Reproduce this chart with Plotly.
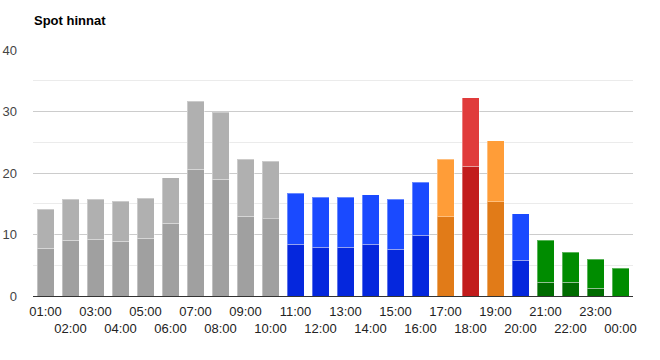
import plotly.graph_objects as go

hours = ["01:00", "02:00", "03:00", "04:00", "05:00", "06:00", "07:00", "08:00",
         "09:00", "10:00", "11:00", "12:00", "13:00", "14:00", "15:00", "16:00",
         "17:00", "18:00", "19:00", "20:00", "21:00", "22:00", "23:00", "00:00"]
spot = [7.75, 9.05, 9.2, 8.9, 9.4, 11.8, 20.6, 19.0, 13.0, 12.6, 8.45, 7.9,
        7.9, 8.4, 7.6, 9.9, 12.9, 21.1, 15.3, 5.8, 2.2, 2.2, 1.25, 0.0]
total = [14.1, 15.7, 15.7, 15.4, 15.9, 19.2, 31.7, 29.9, 22.2, 21.9, 16.7, 16.05,
         16.05, 16.5, 15.7, 18.5, 22.2, 32.2, 25.25, 13.4, 9.05, 7.15, 5.95, 4.5]
level = ["gray"] * 10 + ["blue"] * 6 + ["orange", "red", "orange", "blue"] + ["green"] * 4

dark_col = {"gray": "#a0a0a0", "blue": "#0527dd", "orange": "#e17b18",
            "red": "#c21c1c", "green": "#006c00"}
light_col = {"gray": "#b0b0b0", "blue": "#1a4aff", "orange": "#ff9d38",
             "red": "#e03b3b", "green": "#008c00"}

x = list(range(len(hours)))
upper = [t - s for t, s in zip(total, spot)]

fig = go.Figure()
fig.add_trace(go.Bar(
    x=x, y=spot, marker=dict(color=[dark_col[l] for l in level],
                             line=dict(color="rgba(255,255,255,0.35)", width=1)),
    hoverinfo="skip"))
fig.add_trace(go.Bar(
    x=x, y=upper, marker=dict(color=[light_col[l] for l in level],
                              line=dict(color="rgba(255,255,255,0.35)", width=1)),
    hoverinfo="skip"))

ticktext = [h if i % 2 == 0 else "<br>" + h for i, h in enumerate(hours)]

fig.update_layout(
    width=660, height=360, barmode="stack", bargap=0.32, showlegend=False,
    plot_bgcolor="white", paper_bgcolor="white",
    margin=dict(l=33, r=27, t=50, b=64),
    font=dict(family="Liberation Sans, Arial", size=13, color="#222"),
    title=dict(text="<b>Spot hinnat</b>", x=34 / 660, xanchor="left",
               y=1 - 20 / 360, yanchor="middle", pad=dict(l=0, r=0, t=0, b=0),
               font=dict(size=13, color="#000")),
    xaxis=dict(range=[-0.5, 23.5], tickmode="array", tickvals=x, ticktext=ticktext,
               tickangle=0, automargin=False, ticklabelstandoff=6,
               showgrid=False, ticks="", showline=False, zeroline=False,
               tickfont=dict(size=13, color="#222")),
    yaxis=dict(range=[0, 40], dtick=10, tick0=0, showgrid=True, gridcolor="#cccccc",
               automargin=False,
               zeroline=True, zerolinecolor="#333333", zerolinewidth=1,
               ticks="", tickfont=dict(size=13, color="#444"), ticklabelstandoff=15,
               minor=dict(dtick=5, showgrid=True, gridcolor="#ebebeb")),
)

fig.write_html("out.html", config={"displayModeBar": False},
               post_script="document.body.style.margin='0';document.body.style.overflow='hidden';")
